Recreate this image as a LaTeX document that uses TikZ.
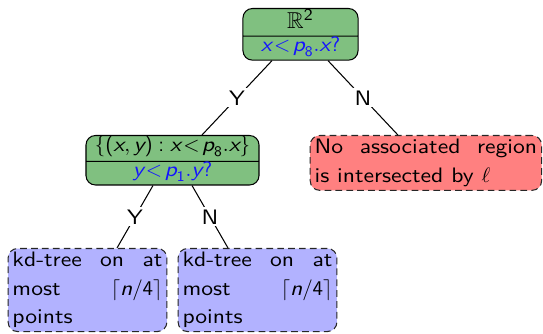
\documentclass[tikz,border=0pt]{standalone}
\usepackage{amssymb}
\usepackage[no-math]{fontspec}
\setsansfont{lmsans10-regular.otf}[FakeStretch=1.13, ItalicFont=lmsans10-oblique.otf]
\usetikzlibrary{shapes.multipart,calc}
\DeclareSymbolFont{operators}{OT1}{cmss}{m}{n}
\DeclareSymbolFont{cmletters}{OML}{cmm}{m}{it}
\DeclareMathSymbol{\myell}{\mathord}{cmletters}{"60}
\newcommand{\mi}[1]{\mbox{\itshape #1}}
\newcommand{\nohyph}{\tolerance=10000 \hyphenpenalty=10000 \exhyphenpenalty=10000 \relax}
\definecolor{gfill}{RGB}{128,192,128}
\definecolor{rfill}{RGB}{255,128,128}
\definecolor{bfill}{RGB}{178,178,255}
\definecolor{qblue}{RGB}{20,20,255}
\begin{document}
\begin{tikzpicture}[x=0.478pt,y=-0.478pt,
  base/.style={font=\sffamily\fontsize{10}{13.6}\selectfont},
  gbox/.style={base, rectangle split, rectangle split parts=2, draw=black, line width=0.5pt,
    fill=gfill, rounded corners=4.5pt, inner xsep=2pt, inner ysep=0pt, anchor=north},
  dbox/.style={font={\sffamily\fontsize{10}{13.6}\selectfont\nohyph},
    draw=black!85, dashed, dash pattern=on 3.2pt off 2pt, line width=0.5pt,
    rounded corners=4.5pt, align=justify, inner xsep=2.1pt, inner ysep=1.8pt, anchor=north},
  conn/.style={line width=0.5pt},
  lab/.style={base, fill=white, inner sep=1pt}]
\useasboundingbox (0,0) rectangle (543,334);
\node[gbox, minimum width=55pt] (root) at (300.5,8)
  {\rule[-3.5pt]{0pt}{9.4pt}{\fontsize{11}{13.6}\selectfont$\mathbb{R}^2$}\nodepart{two}\rule[-4pt]{0pt}{9.9pt}\textcolor{qblue}{$\mi{x}\!<\!\mi{p}_8.\mi{x}?$}};
\node[gbox, minimum width=82.7pt] (mid) at (172.5,135)
  {\rule[-4.4pt]{0pt}{9.9pt}$\{(\mi{x},\mi{y}) : \mi{x}\!<\!\mi{p}_8.\mi{x}\}$\nodepart{two}\rule[-3.8pt]{0pt}{9.6pt}\textcolor{qblue}{$\mi{y}\!<\!\mi{p}_1.\mi{y}?$}};
\node[dbox, fill=rfill, text width=106.4pt] (none) at (425.9,135)
  {No associated region\linebreak is intersected by $\myell$};
\node[dbox, fill=bfill, text width=71.7pt] (kdl) at (87.5,248)
  {kd-tree on at\linebreak most $\lceil \mi{n}/4\rceil$\linebreak points};
\node[dbox, fill=bfill, text width=71.7pt] (kdr) at (257.5,248)
  {kd-tree on at\linebreak most $\lceil \mi{n}/4\rceil$\linebreak points};
\draw[conn] ($(root.south)+(-28.5,0)$) -- node[lab]{Y} ($(mid.north)+(29.5,0)$);
\draw[conn] ($(root.south)+(27.5,0)$) -- node[lab]{N} ($(none.north)+(-28,0)$);
\draw[conn] ($(mid.south)+(-19.5,0)$) -- node[lab]{Y} ($(kdl.north)+(29.5,0)$);
\draw[conn] ($(mid.south)+(19.5,0)$) -- node[lab]{N} ($(kdr.north)+(-29.5,0)$);
\end{tikzpicture}
\end{document}
